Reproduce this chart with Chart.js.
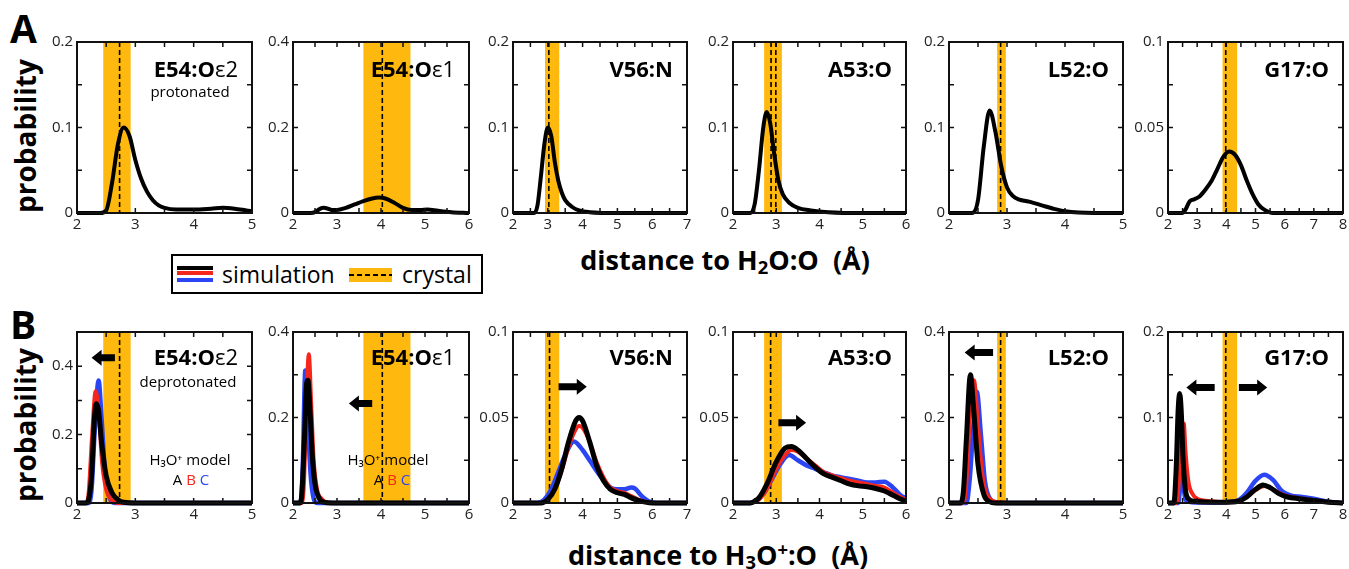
<!DOCTYPE html>
<html>
<head>
<meta charset="utf-8">
<script src="https://cdn.jsdelivr.net/npm/chart.js@4.4.1/dist/chart.umd.min.js"></script>
<style>
  body { margin: 0; background: #fff; width: 1349px; height: 569px; overflow: hidden; position: relative; font-family: "Open Sans", sans-serif; }
  canvas { position: absolute; }
  .t { position: absolute; white-space: nowrap; line-height: 1; color: #000; }
  .t sub { font-size: 0.68em; vertical-align: -0.22em; line-height: 0; }
  .t sup { font-size: 0.68em; vertical-align: 0.5em; line-height: 0; }
  .sw { position: absolute; }
</style>
</head>
<body>

<div class="t" style="left:10px;top:8px;font-size:39px;font-weight:bold">A</div>
<div class="t" style="left:10px;top:304px;font-size:39px;font-weight:bold">B</div>
<div class="t" style="left:25px;top:136px;font-size:28px;font-weight:bold;transform:translate(-50%,-50%) rotate(-90deg)">probability</div>
<div class="t" style="left:25px;top:425px;font-size:28px;font-weight:bold;transform:translate(-50%,-50%) rotate(-90deg)">probability</div>
<div class="t" style="left:725px;top:246px;font-size:27px;font-weight:bold;transform:translateX(-50%)">distance to H<sub>2</sub>O:O&nbsp;&nbsp;(Å)</div>
<div class="t" style="left:718px;top:541px;font-size:27px;font-weight:bold;transform:translateX(-50%)">distance to H<sub>3</sub>O<sup>+</sup>:O&nbsp;&nbsp;(Å)</div>

<!-- legend -->
<div class="sw" style="left:171px;top:254px;width:308px;height:36px;border:2px solid #000"></div>
<div class="sw" style="left:177px;top:266px;width:36px;height:4px;background:#000"></div>
<div class="sw" style="left:177px;top:270.5px;width:36px;height:4.5px;background:#f5261c"></div>
<div class="sw" style="left:177px;top:278px;width:36px;height:4px;background:#2b45f5"></div>
<div class="t" style="left:222px;top:263px;font-size:23px">simulation</div>
<div class="sw" style="left:349px;top:268px;width:43px;height:14px;background:#ffb80d"></div>
<div class="sw" style="left:349px;top:274px;width:43px;height:2px;background:repeating-linear-gradient(90deg,#000 0 5px,transparent 5px 8px)"></div>
<div class="t" style="left:402px;top:263px;font-size:23px">crystal</div>

<script>
// axis ranges per column
const X_MAX = [5, 6, 7, 6, 5, 8];
const Y_MAX_A = [0.2, 0.4, 0.2, 0.2, 0.2, 0.1];
const Y_MAX_B = [0.5, 0.4, 0.1, 0.1, 0.4, 0.2];
const Y_STEP_A = [0.05, 0.1, 0.05, 0.05, 0.05, 0.025];
const Y_STEP_B = [0.1, 0.1, 0.025, 0.025, 0.1, 0.05];

// crystal distance (band + dashed lines)
const BAND_LO = [2.45, 3.6, 2.92, 2.72, 2.83, 3.87];
const BAND_HI = [2.92, 4.67, 3.33, 3.13, 2.98, 4.37];
const CRYSTAL_A = [[2.73], [4.03], [3.03], [2.88, 2.99], [2.89], [3.98]];
const CRYSTAL_B = [[2.73], [4.03], [3.05], [2.87], [2.89], [3.98]];

// panel names
const NAMES = [
  [["E54:O", true], ["ε2", false]],
  [["E54:O", true], ["ε1", false]],
  [["V56:N", true]],
  [["A53:O", true]],
  [["L52:O", true]],
  [["G17:O", true]]
];

// row A : distance to H2O:O
const A1 = [[2,0],[2.4,0],[2.5,0.003],[2.6,0.035],[2.7,0.08],[2.8,0.1],[2.9,0.09],[3.0,0.062],[3.1,0.04],[3.2,0.025],[3.3,0.015],[3.4,0.009],[3.5,0.006],[3.7,0.004],[4.0,0.004],[4.3,0.005],[4.5,0.006],[4.7,0.005],[4.9,0.003],[5.0,0.002]];
const A2 = [[2,0],[2.4,0],[2.5,0.002],[2.6,0.009],[2.7,0.012],[2.8,0.01],[2.9,0.007],[3.0,0.007],[3.2,0.012],[3.4,0.02],[3.6,0.028],[3.8,0.034],[3.95,0.036],[4.1,0.034],[4.3,0.024],[4.5,0.012],[4.7,0.007],[4.9,0.007],[5.05,0.008],[5.3,0.005],[5.6,0.002],[6,0]];
const A3 = [[2,0],[2.6,0],[2.7,0.008],[2.8,0.042],[2.9,0.08],[3.0,0.1],[3.1,0.09],[3.2,0.06],[3.3,0.038],[3.4,0.024],[3.5,0.015],[3.7,0.007],[3.9,0.003],[4.2,0.001],[5,0],[7,0]];
const A4 = [[2,0],[2.4,0],[2.5,0.01],[2.6,0.05],[2.7,0.1],[2.78,0.118],[2.86,0.105],[2.95,0.07],[3.05,0.038],[3.15,0.022],[3.3,0.012],[3.5,0.006],[3.8,0.003],[4.2,0.001],[5,0],[6,0]];
const A5 = [[2,0],[2.4,0],[2.5,0.015],[2.6,0.078],[2.7,0.12],[2.8,0.095],[2.9,0.055],[3.0,0.03],[3.1,0.02],[3.2,0.016],[3.4,0.013],[3.6,0.009],[3.8,0.005],[4.0,0.002],[4.5,0],[5,0]];
const A6 = [[2,0],[2.5,0],[2.6,0.002],[2.75,0.007],[2.9,0.008],[3.1,0.01],[3.3,0.014],[3.5,0.019],[3.7,0.026],[3.9,0.033],[4.1,0.036],[4.3,0.034],[4.5,0.028],[4.7,0.019],[4.9,0.011],[5.1,0.005],[5.3,0.002],[5.6,0],[8,0]];

// row B : distance to H3O+:O, H3O+ models A (black), B (red), C (blue)
const B1_A = [[2,0],[2.15,0],[2.2,0.01],[2.25,0.08],[2.3,0.25],[2.33,0.29],[2.37,0.27],[2.42,0.18],[2.5,0.08],[2.6,0.03],[2.7,0.01],[2.8,0.002],[3,0],[5,0]];
const B1_B = [[2,0],[2.15,0],[2.2,0.03],[2.26,0.2],[2.32,0.327],[2.37,0.27],[2.43,0.12],[2.5,0.04],[2.6,0.008],[2.7,0],[5,0]];
const B1_C = [[2,0],[2.2,0],[2.25,0.04],[2.3,0.2],[2.37,0.358],[2.42,0.25],[2.48,0.09],[2.55,0.02],[2.65,0],[5,0]];

const B2_A = [[2,0],[2.15,0],[2.2,0.02],[2.26,0.15],[2.31,0.28],[2.34,0.287],[2.38,0.23],[2.44,0.11],[2.5,0.045],[2.6,0.01],[2.7,0.002],[2.9,0],[6,0]];
const B2_B = [[2,0],[2.2,0],[2.25,0.05],[2.3,0.22],[2.36,0.348],[2.41,0.24],[2.47,0.1],[2.55,0.03],[2.65,0.01],[2.8,0],[6,0]];
const B2_C = [[2,0],[2.17,0],[2.22,0.08],[2.28,0.31],[2.33,0.25],[2.38,0.1],[2.45,0.02],[2.55,0],[6,0]];

const B3_A = [[2,0],[2.8,0],[3.0,0.002],[3.2,0.008],[3.4,0.02],[3.6,0.036],[3.8,0.048],[3.9,0.05],[4.0,0.048],[4.2,0.036],[4.4,0.022],[4.6,0.013],[4.8,0.008],[5.0,0.006],[5.2,0.005],[5.4,0.003],[5.6,0.0015],[5.8,0.0005],[6,0],[7,0]];
const B3_B = [[2,0],[2.8,0],[3.0,0.002],[3.2,0.008],[3.4,0.019],[3.6,0.033],[3.8,0.043],[3.9,0.045],[4.0,0.044],[4.2,0.036],[4.4,0.024],[4.6,0.015],[4.8,0.009],[5.0,0.007],[5.2,0.006],[5.4,0.004],[5.6,0.002],[5.8,0.0008],[6,0],[7,0]];
const B3_C = [[2,0],[2.7,0],[2.9,0.002],[3.1,0.008],[3.3,0.018],[3.5,0.028],[3.75,0.036],[4.0,0.031],[4.2,0.025],[4.5,0.016],[4.8,0.009],[5.0,0.008],[5.2,0.008],[5.4,0.009],[5.5,0.0085],[5.7,0.004],[5.9,0.001],[6.1,0],[7,0]];

const B4_A = [[2,0],[2.4,0],[2.5,0.001],[2.6,0.003],[2.8,0.012],[3.0,0.024],[3.2,0.032],[3.35,0.033],[3.5,0.031],[3.7,0.026],[3.9,0.021],[4.1,0.017],[4.3,0.015],[4.5,0.013],[4.7,0.011],[4.9,0.01],[5.1,0.0095],[5.3,0.0085],[5.5,0.007],[5.7,0.0045],[5.9,0.002],[6,0.001]];
const B4_B = [[2,0],[2.4,0],[2.5,0.001],[2.6,0.002],[2.8,0.009],[3.0,0.02],[3.2,0.028],[3.35,0.031],[3.5,0.03],[3.7,0.026],[3.9,0.022],[4.1,0.018],[4.3,0.016],[4.5,0.0145],[4.7,0.013],[4.9,0.012],[5.1,0.011],[5.3,0.01],[5.5,0.009],[5.7,0.006],[5.9,0.003],[6,0.002]];
const B4_C = [[2,0],[2.4,0],[2.5,0.001],[2.7,0.005],[2.9,0.014],[3.1,0.023],[3.3,0.028],[3.5,0.025],[3.7,0.022],[3.9,0.02],[4.1,0.018],[4.3,0.016],[4.5,0.015],[4.7,0.014],[4.9,0.013],[5.1,0.012],[5.3,0.012],[5.5,0.0125],[5.7,0.009],[5.9,0.004],[6,0.003]];

const B5_A = [[2,0],[2.2,0],[2.25,0.03],[2.3,0.15],[2.37,0.3],[2.42,0.23],[2.5,0.09],[2.6,0.02],[2.7,0.003],[2.8,0],[5,0]];
const B5_B = [[2,0],[2.25,0],[2.3,0.05],[2.36,0.2],[2.43,0.287],[2.5,0.18],[2.58,0.06],[2.7,0.01],[2.85,0.002],[3.0,0],[5,0]];
const B5_C = [[2,0],[2.3,0],[2.36,0.06],[2.42,0.18],[2.48,0.26],[2.55,0.16],[2.62,0.05],[2.72,0.008],[2.85,0],[5,0]];

const B6_A = [[2,0],[2.2,0],[2.28,0.04],[2.35,0.11],[2.4,0.128],[2.45,0.11],[2.52,0.05],[2.6,0.015],[2.7,0.005],[2.9,0.002],[3.5,0.001],[4.0,0.001],[4.4,0.002],[4.7,0.007],[5.0,0.016],[5.26,0.021],[5.5,0.018],[5.8,0.011],[6.1,0.007],[6.5,0.005],[7.0,0.003],[7.5,0.001],[8,0]];
const B6_B = [[2,0],[2.3,0],[2.38,0.03],[2.46,0.08],[2.54,0.093],[2.6,0.06],[2.7,0.025],[2.85,0.01],[3.0,0.005],[3.5,0.002],[4.0,0.001],[4.4,0.002],[4.7,0.007],[5.0,0.015],[5.3,0.02],[5.6,0.016],[5.9,0.01],[6.2,0.007],[6.6,0.005],[7.0,0.003],[7.5,0.001],[8,0]];
const B6_C = [[2,0],[2.35,0],[2.42,0.02],[2.47,0.035],[2.53,0.02],[2.6,0.004],[2.8,0.001],[3.5,0.0005],[4.0,0.001],[4.4,0.003],[4.7,0.012],[5.0,0.026],[5.3,0.033],[5.6,0.027],[5.9,0.014],[6.2,0.009],[6.6,0.007],[7.0,0.005],[7.4,0.002],[7.8,0.0005],[8,0]];

// shift arrows in row B: [from, to, y, direction]
const ARROWS_B = [
  [[2.25, 2.65, 0.425, -1]],
  [[3.27, 3.8, 0.233, -1]],
  [[3.31, 4.12, 0.068, 1]],
  [[3.05, 3.69, 0.047, 1]],
  [[2.27, 2.76, 0.352, -1]],
  [[2.63, 3.6, 0.135, -1], [4.43, 5.4, 0.135, 1]]
];

const BLACK = "#000", RED = "#f5261c", BLUE = "#2b45f5", GOLD = "#ffb80d";

// layout
const PLOT_LEFT = [77, 293, 513, 733, 949, 1168];
const PLOT_W = [175, 176, 174, 173, 174, 175];
const ROW_TOP = [42, 332];
const PLOT_H = 171;
const AX_W = 46, AX_H = 30, PAD_T = 14, PAD_R = 14;

const FONT = "'Open Sans', sans-serif";

function fmt(v) { return String(parseFloat(v.toFixed(3))); }

function drawSegs(ctx, segs, x, y, align) {
  let w = 0;
  segs.forEach(s => { ctx.font = s.font; w += ctx.measureText(s.t).width; });
  let cx = align === "right" ? x - w : align === "center" ? x - w / 2 : x;
  ctx.textAlign = "left";
  ctx.textBaseline = "alphabetic";
  segs.forEach(s => {
    ctx.font = s.font; ctx.fillStyle = s.color || "#000";
    ctx.fillText(s.t, cx, y);
    cx += ctx.measureText(s.t).width;
  });
}

function arrow(ctx, x1, x2, y, dir) {
  const hl = 10, hh = 8, sh = 3.5;
  ctx.beginPath();
  if (dir < 0) {
    ctx.moveTo(x1, y); ctx.lineTo(x1 + hl, y - hh); ctx.lineTo(x1 + hl, y - sh);
    ctx.lineTo(x2, y - sh); ctx.lineTo(x2, y + sh); ctx.lineTo(x1 + hl, y + sh); ctx.lineTo(x1 + hl, y + hh);
  } else {
    ctx.moveTo(x2, y); ctx.lineTo(x2 - hl, y - hh); ctx.lineTo(x2 - hl, y - sh);
    ctx.lineTo(x1, y - sh); ctx.lineTo(x1, y + sh); ctx.lineTo(x2 - hl, y + sh); ctx.lineTo(x2 - hl, y + hh);
  }
  ctx.closePath();
  ctx.fill();
}

// band, dashed crystal line, frame with inward ticks, labels, arrows
const deco = {
  id: "deco",
  beforeDatasetsDraw(chart, args, o) {
    const { ctx, chartArea: a, scales: { x } } = chart;
    ctx.save();
    ctx.fillStyle = GOLD;
    const l = x.getPixelForValue(o.band[0]), r = x.getPixelForValue(o.band[1]);
    ctx.fillRect(l, a.top, r - l, a.bottom - a.top);
    ctx.strokeStyle = "#000"; ctx.lineWidth = 1.6; ctx.setLineDash([5, 3]);
    o.crystal.forEach(c => {
      const px = x.getPixelForValue(c);
      ctx.beginPath(); ctx.moveTo(px, a.top); ctx.lineTo(px, a.bottom); ctx.stroke();
    });
    ctx.restore();
  },
  afterDatasetsDraw(chart) {
    const { ctx, chartArea: a, scales: { x, y } } = chart;
    ctx.save();
    ctx.strokeStyle = "#111"; ctx.lineWidth = 2;
    ctx.strokeRect(a.left, a.top, a.right - a.left, a.bottom - a.top);
    ctx.lineWidth = 1.5;
    ctx.beginPath();
    x.ticks.forEach(t => {
      const px = x.getPixelForValue(t.value);
      ctx.moveTo(px, a.bottom); ctx.lineTo(px, a.bottom - 5);
      ctx.moveTo(px, a.top); ctx.lineTo(px, a.top + 5);
    });
    y.ticks.forEach(t => {
      const py = y.getPixelForValue(t.value);
      ctx.moveTo(a.left, py); ctx.lineTo(a.left + 5, py);
      ctx.moveTo(a.right, py); ctx.lineTo(a.right - 5, py);
    });
    ctx.stroke();
    ctx.restore();
  },
  afterDraw(chart, args, o) {
    const { ctx, chartArea: a, scales: { x, y } } = chart;
    ctx.save();
    drawSegs(ctx, o.name.map(s => ({ t: s[0], font: (s[1] ? "bold " : "") + "22px " + FONT })),
      a.right - 14, a.top + o.titleY, "right");
    o.notes.forEach(n => {
      drawSegs(ctx, n.segs.map(s => ({ t: s[0], color: s[1], font: "15px " + FONT })),
        a.left + n.cx, a.top + n.dy, "center");
    });
    ctx.fillStyle = "#000";
    o.arrows.forEach(ar => arrow(ctx, x.getPixelForValue(ar[0]), x.getPixelForValue(ar[1]), y.getPixelForValue(ar[2]), ar[3]));
    ctx.restore();
  }
};

function makePanel(row, i, series, yMax, yStep, crystal, arrows, notes) {
  const cv = document.createElement("canvas");
  const w = AX_W + PLOT_W[i] + PAD_R, h = PAD_T + PLOT_H + AX_H;
  cv.width = w; cv.height = h;
  cv.style.left = (PLOT_LEFT[i] - AX_W) + "px";
  cv.style.top = (ROW_TOP[row] - PAD_T) + "px";
  document.body.appendChild(cv);

  new Chart(cv, {
    type: "line",
    data: {
      // first dataset is painted last (on top)
      datasets: series.map(s => ({
        data: s.pts.map(p => ({ x: p[0], y: p[1] })),
        borderColor: s.color,
        borderWidth: s.w,
        pointRadius: 0,
        fill: false,
        cubicInterpolationMode: "monotone",
        clip: 4
      }))
    },
    options: {
      responsive: false,
      animation: false,
      events: [],
      layout: { padding: { top: PAD_T, right: PAD_R, left: 0, bottom: 0 } },
      plugins: {
        legend: { display: false },
        tooltip: { enabled: false },
        deco: { band: [BAND_LO[i], BAND_HI[i]], crystal, name: NAMES[i], titleY: row ? 33 : 35, arrows, notes }
      },
      scales: {
        x: {
          type: "linear", min: 2, max: X_MAX[i],
          afterFit(s) { s.height = AX_H; },
          grid: { display: false, drawTicks: false },
          border: { display: false },
          ticks: {
            stepSize: 0.5, autoSkip: false, maxRotation: 0, padding: 3,
            color: "#222", font: { family: FONT, size: 15 },
            callback: v => Number.isInteger(v) ? String(v) : ""
          }
        },
        y: {
          min: 0, max: yMax,
          afterFit(s) { s.width = AX_W; },
          grid: { display: false, drawTicks: false },
          border: { display: false },
          ticks: {
            stepSize: yStep, autoSkip: false, padding: 4,
            color: "#222", font: { family: FONT, size: 15 },
            callback: (v, idx) => idx % 2 === 0 ? fmt(v) : ""
          }
        }
      }
    },
    plugins: [deco]
  });
}

const rowA = [A1, A2, A3, A4, A5, A6];
const rowB = [[B1_A, B1_B, B1_C], [B2_A, B2_B, B2_C], [B3_A, B3_B, B3_C], [B4_A, B4_B, B4_C], [B5_A, B5_B, B5_C], [B6_A, B6_B, B6_C]];

const NOTES_A = [[{ cx: 113, dy: 55, segs: [["protonated", "#000"]] }], [], [], [], [], []];
const NOTES_B = [
  [{ cx: 111, dy: 55, segs: [["deprotonated", "#000"]] },
   { cx: 113, dy: 133, segs: [["H₃O⁺ model", "#000"]] },
   { cx: 114, dy: 153, segs: [["A ", BLACK], ["B ", RED], ["C", BLUE]] }],
  [{ cx: 95, dy: 133, segs: [["H₃O⁺ model", "#000"]] },
   { cx: 99, dy: 153, segs: [["A ", BLACK], ["B ", RED], ["C", BLUE]] }],
  [], [], [], []
];

rowA.forEach((pts, i) => {
  makePanel(0, i, [{ pts, color: BLACK, w: 4 }], Y_MAX_A[i], Y_STEP_A[i], CRYSTAL_A[i], [], NOTES_A[i]);
});
rowB.forEach((s, i) => {
  makePanel(1, i, [
    { pts: s[0], color: BLACK, w: 5 },
    { pts: s[1], color: RED, w: 4 },
    { pts: s[2], color: BLUE, w: 4.5 }
  ], Y_MAX_B[i], Y_STEP_B[i], CRYSTAL_B[i], ARROWS_B[i], NOTES_B[i]);
});
</script>
</body>
</html>
